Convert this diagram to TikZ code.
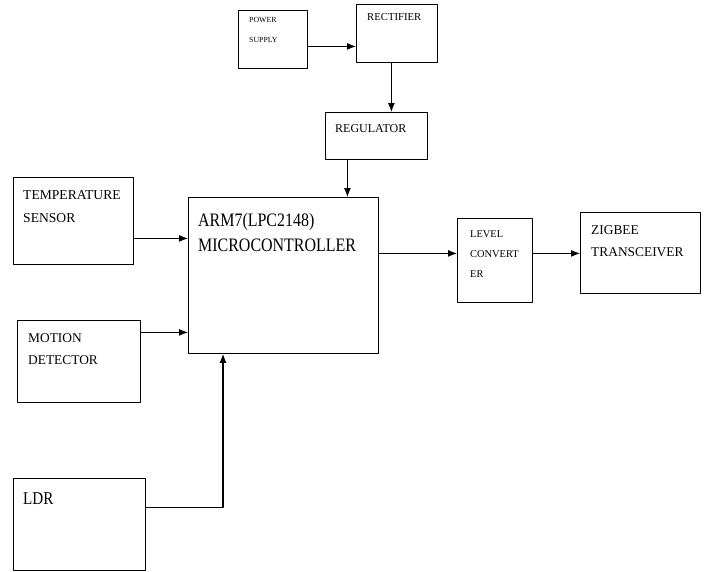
\documentclass[tikz,border=0pt]{standalone}
\usepackage{fontspec}
\setmainfont{Liberation Serif}
\newfontfamily\narrowfont[FakeStretch=0.84]{Liberation Serif}
\usetikzlibrary{arrows.meta}
\tikzset{
  blk/.style={draw, line width=0.8pt, anchor=north west, inner sep=0pt},
  txt/.style={anchor=north west, inner sep=0pt, align=left},
  arr/.style={-{Latex[length=9pt,width=7pt]}, line width=1.1pt}
}

\begin{document}
\begin{tikzpicture}[x=1pt,y=-1pt,line join=round]
	\useasboundingbox (0,0) rectangle (704,571);
	% blocks
	\foreach\n/\x/\y/\w/\h in {psu/238/10/69/58, rect/356/4/81/58, reg/325/112/102/47,
		temp/13/177/120/87, arm/188/197/190/156, motion/17/320/123/82,
		ldr/13/478/132/92, level/457/218/75/84, zigbee/580/212/120/81}
	{
		\node[blk, minimum width=\w pt, minimum height=\h pt] (\n) at (\x,\y) {};
	}
	% block texts
	\foreach\n/\dx/\dy/\ff/\fs/\bs/\t in {psu/11/7/\rmfamily/7.8/20/{POWER\\SUPPLY},
		rect/11/9/\rmfamily/10.7/13/{RECTIFIER}, reg/10/12/\rmfamily/12/14/{REGULATOR},
		temp/10/13/\rmfamily/13.6/23/{TEMPERATURE\\SENSOR},
		arm/10/16/\narrowfont/19/25/{ARM7(LPC2148)\\MICROCONTROLLER},
		motion/11/13/\rmfamily/13.4/22/{MOTION\\DETECTOR}, ldr/10/15/\narrowfont/18/18/{LDR},
		level/13/12/\rmfamily/10.4/20/{LEVEL\\CONVERT\\ER},
		zigbee/11/13/\rmfamily/13.4/22/{ZIGBEE\\TRANSCEIVER}}
	{
		\node[txt, font=\ff\fontsize{\fs}{\bs}\selectfont] (\n txt) at ([shift={(\dx,\dy)}]\n.north west) {\t};
	}
	% connectors
	\draw[arr] ([yshift=-7]psu.east) -- ([yshift=-7]psu.east -| rect.west);
	\draw[arr] ([xshift=-5.5]rect.south) -- ([xshift=-5.5]rect.south |- reg.north);
	\draw[arr] ([xshift=-29]reg.south) -- ([xshift=-29]reg.south |- arm.north);
	\draw[arr] ([yshift=-17.5]temp.east) -- ([yshift=-17.5]temp.east -| arm.west);
	\draw[arr] ([yshift=29]motion.east) -- ([yshift=29]motion.east -| arm.west);
	\draw[arr] ([yshift=17]ldr.east) -| ([xshift=35]arm.south west);
	\draw[arr] ([yshift=22]arm.east) -- ([yshift=22]arm.east -| level.west);
	\draw[arr] ([yshift=7]level.east) -- ([yshift=7]level.east -| zigbee.west);
\end{tikzpicture}
\end{document}
